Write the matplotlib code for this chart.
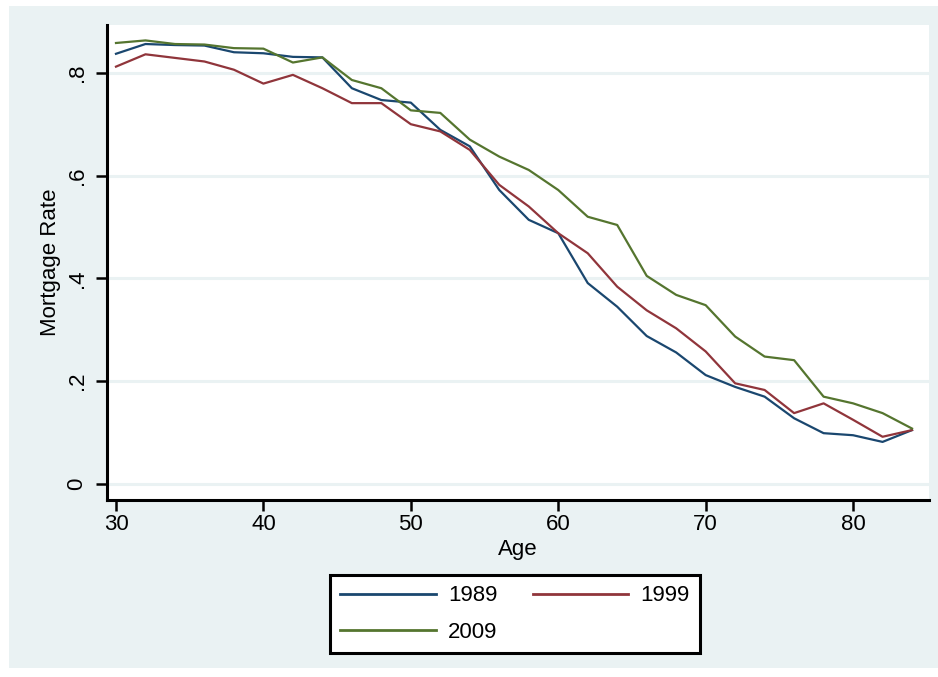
import matplotlib

matplotlib.use("Agg")

import matplotlib.pyplot as plt
from matplotlib.patches import Rectangle

AGES = [30, 32, 34, 36, 38, 40, 42, 44, 46, 48, 50, 52, 54, 56, 58, 60, 62, 64, 66, 68, 70, 72, 74, 76, 78, 80, 82, 84]
RATE_1989 = [0.837, 0.856, 0.854, 0.853, 0.840, 0.838, 0.831, 0.830, 0.770, 0.747, 0.742, 0.689, 0.657, 0.572,
             0.514, 0.488, 0.391, 0.345, 0.288, 0.256, 0.212, 0.189, 0.170, 0.128, 0.099, 0.095, 0.082, 0.105]
RATE_1999 = [0.812, 0.836, 0.829, 0.822, 0.806, 0.779, 0.796, 0.770, 0.741, 0.741, 0.700, 0.686, 0.650, 0.582,
             0.540, 0.488, 0.449, 0.384, 0.338, 0.303, 0.258, 0.196, 0.183, 0.138, 0.157, 0.125, 0.092, 0.105]
RATE_2009 = [0.858, 0.863, 0.856, 0.855, 0.848, 0.847, 0.820, 0.830, 0.786, 0.770, 0.727, 0.722, 0.670, 0.637,
             0.611, 0.572, 0.520, 0.504, 0.405, 0.368, 0.348, 0.287, 0.248, 0.241, 0.170, 0.157, 0.138, 0.108]
SERIES = [("1989", RATE_1989, "#1a476f"), ("1999", RATE_1999, "#90353b"), ("2009", RATE_2009, "#55752f")]
Y_TICKS = [0, 0.2, 0.4, 0.6, 0.8]
Y_TICK_LABELS = ["0", ".2", ".4", ".6", ".8"]
X_TICKS = [30, 40, 50, 60, 70, 80]

BG = "#eaf2f3"
W, H = 938, 677
FS = 16

plt.rcParams["font.family"] = ["Liberation Sans", "DejaVu Sans"]

fig = plt.figure(figsize=(W / 100, H / 100), dpi=100, facecolor="white")
fig.patches.append(Rectangle((9 / W, 1 - 668 / H), (W - 9) / W, (668 - 6) / H,
                             transform=fig.transFigure, facecolor=BG, edgecolor="none", zorder=-10))

ax = fig.add_axes([107 / W, 1 - 500 / H, (929 - 107) / W, (500 - 25) / H])
ax.set_facecolor("white")

lines = {}
for label, values, color in SERIES:
    lines[label], = ax.plot(AGES, values, color=color, linewidth=1.6, label=label)

ax.set_xlim(29.39, 85.15)
ax.set_ylim(-0.031, 0.893)
ax.set_yticks(Y_TICKS)
ax.set_yticklabels(Y_TICK_LABELS, rotation=90, va="center")
ax.set_xticks(X_TICKS)
ax.grid(axis="y", color=BG, linewidth=2.2)
ax.set_axisbelow(True)

for side in ["top", "right"]:
    ax.spines[side].set_visible(False)
for side in ["left", "bottom"]:
    ax.spines[side].set_linewidth(2.2)
    ax.spines[side].set_color("black")
ax.tick_params(axis="both", length=8, width=1.8, labelsize=FS, color="black")
ax.tick_params(axis="y", pad=6)
ax.tick_params(axis="x", pad=2)

ax.set_xlabel("Age", fontsize=FS, labelpad=3)
ax.set_ylabel("Mortgage Rate", fontsize=FS, labelpad=4)

# row-wise order like Stata: 1989 1999 / 2009
order = ["1989", "2009", "1999"]
leg = fig.legend([lines[k] for k in order], order, loc="center", bbox_to_anchor=(515 / W, 1 - 614 / H),
                 ncol=2, fontsize=FS, handlelength=4.3, handletextpad=0.55, columnspacing=1.6,
                 labelspacing=0.68, borderpad=0.45, fancybox=False, framealpha=1)
leg.get_frame().set_edgecolor("black")
leg.get_frame().set_linewidth(2.2)
for line in leg.get_lines():
    line.set_linewidth(2.0)

fig.savefig("out.png", dpi=100, facecolor=fig.get_facecolor())
